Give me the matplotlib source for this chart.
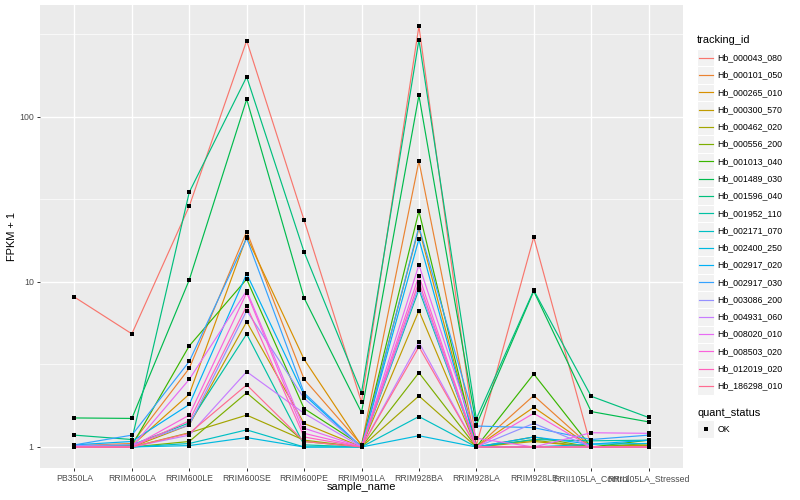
import numpy as np
import matplotlib
matplotlib.use("Agg")
import matplotlib.pyplot as plt
from matplotlib.patches import Rectangle
from matplotlib.lines import Line2D
from matplotlib.ticker import FixedLocator, NullFormatter

samples = ["PB350LA", "RRIM600LA", "RRIM600LE", "RRIM600SE", "RRIM600PE",
           "RRIM901LA", "RRIM928BA", "RRIM928LA", "RRIM928LE",
           "RRII105LA_Control", "RRII105LA_Stressed"]

tracking_ids = ["Hb_000043_080", "Hb_000101_050", "Hb_000265_010", "Hb_000300_570",
                "Hb_000462_020", "Hb_000556_200", "Hb_001013_040", "Hb_001489_030",
                "Hb_001596_040", "Hb_001952_110", "Hb_002171_070", "Hb_002400_250",
                "Hb_002917_020", "Hb_002917_030", "Hb_003086_200", "Hb_004931_060",
                "Hb_008020_010", "Hb_008503_020", "Hb_012019_020", "Hb_186298_010"]

# FPKM + 1 values, one list per tracking_id (order of samples above)
hb_000043_080 = [8.1, 4.85, 28.8, 290, 23.7, 1.87, 355, 1.02, 18.7, 1.0, 1.0]
hb_000101_050 = [1.02, 1.05, 3.0, 20.2, 2.58, 1.03, 54, 1.0, 2.05, 1.0, 1.02]
hb_000265_010 = [1.0, 1.02, 2.09, 18.8, 3.4, 1.02, 21.2, 1.0, 1.74, 1.0, 1.03]
hb_000300_570 = [1.0, 1.0, 1.36, 5.74, 1.39, 1.0, 6.7, 1.0, 1.08, 1.0, 1.0]
hb_000462_020 = [1.0, 1.0, 1.22, 1.56, 1.1, 1.0, 2.04, 1.0, 1.1, 1.0, 1.02]
hb_000556_200 = [1.0, 1.0, 1.08, 2.13, 1.08, 1.0, 2.82, 1.0, 1.15, 1.0, 1.05]
hb_001013_040 = [1.0, 1.02, 4.1, 10.4, 1.71, 1.02, 26.9, 1.0, 2.77, 1.0, 1.10]
hb_001489_030 = [1.5, 1.49, 10.3, 128, 8.0, 1.62, 135, 1.36, 8.8, 1.64, 1.42]
hb_001596_040 = [1.18, 1.11, 35, 175, 15.2, 2.13, 293, 1.48, 8.9, 2.03, 1.51]
hb_001952_110 = [1.0, 1.03, 1.40, 4.84, 1.03, 1.0, 9.0, 1.0, 1.11, 1.09, 1.10]
hb_002171_070 = [1.0, 1.0, 1.05, 1.27, 1.0, 1.0, 1.53, 1.0, 1.0, 1.0, 1.0]
hb_002400_250 = [1.0, 1.0, 1.02, 1.14, 1.0, 1.0, 1.17, 1.0, 1.0, 1.04, 1.05]
hb_002917_020 = [1.03, 1.08, 1.81, 11.2, 2.07, 1.0, 18.2, 1.0, 1.15, 1.04, 1.10]
hb_002917_030 = [1.03, 1.18, 3.3, 18.4, 2.13, 1.0, 21.6, 1.34, 1.31, 1.11, 1.18]
hb_003086_200 = [1.02, 1.03, 1.36, 6.70, 1.97, 1.0, 9.4, 1.0, 1.39, 1.0, 1.0]
hb_004931_060 = [1.0, 1.0, 1.18, 2.86, 1.60, 1.0, 4.3, 1.0, 1.0, 1.0, 1.0]
hb_008020_010 = [1.0, 1.0, 2.57, 8.86, 1.30, 1.0, 12.7, 1.13, 1.0, 1.22, 1.21]
hb_008503_020 = [1.0, 1.0, 1.56, 8.61, 1.21, 1.0, 10.9, 1.0, 1.6, 1.0, 1.0]
hb_012019_020 = [1.0, 1.0, 1.44, 7.16, 1.15, 1.0, 10.0, 1.0, 1.0, 1.0, 1.0]
hb_186298_010 = [1.0, 1.0, 1.21, 2.38, 1.08, 1.0, 4.05, 1.0, 1.0, 1.0, 1.0]

series = [hb_000043_080, hb_000101_050, hb_000265_010, hb_000300_570, hb_000462_020,
          hb_000556_200, hb_001013_040, hb_001489_030, hb_001596_040, hb_001952_110,
          hb_002171_070, hb_002400_250, hb_002917_020, hb_002917_030, hb_003086_200,
          hb_004931_060, hb_008020_010, hb_008503_020, hb_012019_020, hb_186298_010]

colors = ["#F8766D", "#EA8331", "#D89000", "#C09B00", "#A3A500", "#7CAE00", "#39B600",
          "#00BB4E", "#00BF7D", "#00C1A3", "#00BFC4", "#00BAE0", "#00B0F6", "#35A2FF",
          "#9590FF", "#C77CFF", "#E76BF3", "#FA62DB", "#FF62BC", "#FF6C91"]

plt.rcParams['font.family'] = ['Liberation Sans', 'DejaVu Sans']

W, H = 800, 500
fig = plt.figure(figsize=(W / 100, H / 100), dpi=100)
fig.patch.set_facecolor('white')

pl, pr, pt, pb = 40, 683, 5, 468
ax = fig.add_axes([pl / W, 1 - pb / H, (pr - pl) / W, (pb - pt) / H])
ax.set_facecolor('#EBEBEB')

x = np.arange(len(samples))
for vals, c in zip(series, colors):
    ax.plot(x, vals, color=c, lw=0.85, zorder=3, solid_joinstyle='round')
for vals in series:
    ax.plot(x, vals, 's', color='black', ms=2.6, mew=0, zorder=4)

ax.set_yscale('log')
ax.set_ylim(0.746, 477)
ax.set_xlim(-0.6, len(samples) - 0.4)
ax.yaxis.set_major_locator(FixedLocator([1, 10, 100]))
ax.set_yticklabels(['1', '10', '100'])
ax.yaxis.set_minor_locator(FixedLocator([10 ** 0.5, 10 ** 1.5, 10 ** 2.5]))
ax.yaxis.set_minor_formatter(NullFormatter())
ax.set_xticks(x)
ax.set_xticklabels(samples)
ax.tick_params(which='minor', length=0)
ax.tick_params(which='major', length=2.5, width=0.7, color='#333333',
               labelsize=6.3, labelcolor='#4D4D4D', pad=2)
ax.grid(which='major', color='white', lw=1.0)
ax.grid(which='minor', axis='y', color='white', lw=0.5)
ax.set_axisbelow(True)
for s in ax.spines.values():
    s.set_visible(False)

fig.text((pl + pr) / 2 / W, 1 - 487 / H, 'sample_name', ha='center', va='center',
         fontsize=7.9, color='black')
fig.text(12 / W, 1 - (pt + pb) / 2 / H, 'FPKM + 1', ha='center', va='center',
         rotation=90, fontsize=7.9, color='black')

# legend drawn in pixel coordinates
lax = fig.add_axes([0, 0, 1, 1], zorder=5)
lax.set_xlim(0, W)
lax.set_ylim(H, 0)
lax.axis('off')
key = 17.28
kx = 697
lax.text(kx, 40, 'tracking_id', ha='left', va='center', fontsize=7.9, color='black')
for i, (lab, c) in enumerate(zip(tracking_ids, colors)):
    yc = 57.7 + key * i
    lax.add_patch(Rectangle((kx, yc - key / 2), key, key, fc='#F2F2F2', ec='white', lw=0.8))
    lax.add_line(Line2D([kx + 1.5, kx + key - 1.5], [yc, yc], color=c, lw=0.85))
    lax.text(kx + key + 3, yc, lab, ha='left', va='center', fontsize=6.3, color='black')

lax.text(kx, 413, 'quant_status', ha='left', va='center', fontsize=7.9, color='black')
yc = 429
lax.add_patch(Rectangle((kx, yc - key / 2), key, key, fc='#F2F2F2', ec='white', lw=0.8))
lax.add_line(Line2D([kx + key / 2], [yc], marker='s', color='black', ms=2.6, mew=0))
lax.text(kx + key + 3, yc, 'OK', ha='left', va='center', fontsize=6.3, color='black')

fig.savefig('out.png', dpi=100)
